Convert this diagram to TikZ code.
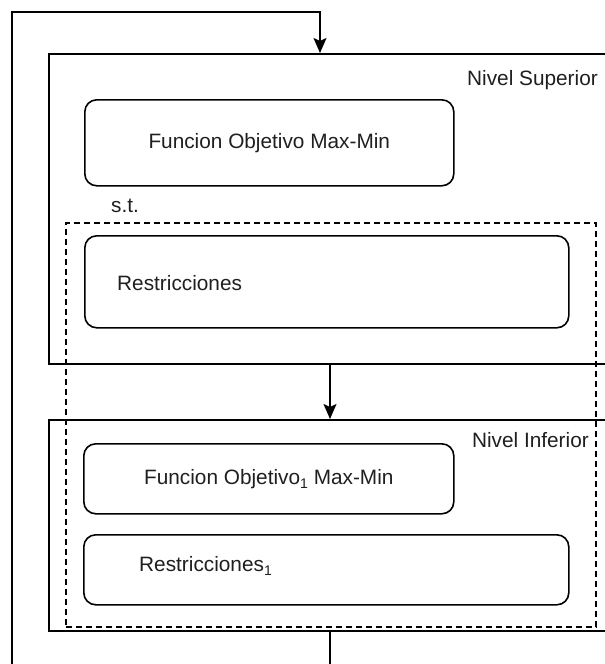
\documentclass[tikz,border=0pt]{standalone}
\usepackage{fontspec}
\setmainfont{Liberation Sans}
\usetikzlibrary{arrows.meta}
\begin{document}
\begin{tikzpicture}[x=1pt,y=-1pt,
  bigbox/.style={draw, line width=2.4pt, anchor=north west, inner sep=0pt},
  rbox/.style={draw, line width=1.6pt, rounded corners=12pt, anchor=north west, inner sep=0pt},
  lbl/.style={font=\fontsize{20.8}{24}\selectfont, text=black!88, inner sep=0pt},
  stbox/.style={draw, dashed, dash pattern=on 6pt off 4pt, line width=1.5pt, anchor=north west, inner sep=0pt},
  arr/.style={line width=1.7pt, -{Stealth[length=15pt,width=13pt,inset=3pt]}}]
\clip (0,0) rectangle (605,664);
% outer level boxes
\node[bigbox, minimum width=570pt, minimum height=310pt] (sup) at (48,53) {};
\node[bigbox, minimum width=570pt, minimum height=211pt] (inf) at (48,419) {};
% inner rounded boxes
\node[rbox, minimum width=369pt, minimum height=86pt] (fo) at (84,99) {};
\node[rbox, minimum width=484pt, minimum height=92pt] (res) at (84,235) {};
\node[rbox, minimum width=370pt, minimum height=70pt] (fo1) at (83,443) {};
\node[rbox, minimum width=485pt, minimum height=70pt] (res1) at (83,534) {};
% labels
\node[lbl, anchor=east] (supl) at (598,80) {Nivel Superior};
\node[lbl, anchor=east] (infl) at (589,440) {Nivel Inferior};
\node[lbl] (fol) at (fo.center) {Funcion Objetivo Max-Min};
\node[lbl, anchor=west] (resl) at (117,283) {Restricciones};
\node[lbl] (fo1l) at (fo1.center) {Funcion Objetivo\raisebox{-0.35ex}{\fontsize{14}{14}\selectfont 1} Max-Min};
\node[lbl, anchor=west] (res1l) at (139,566) {Restricciones\raisebox{-0.35ex}{\fontsize{14}{14}\selectfont 1}};
\node[lbl] (stl) at (125,206) {s.t.};
% dashed constraint region
\node[stbox, minimum width=530pt, minimum height=404pt] (st) at (65,222) {};
% connectors
\coordinate (ax) at (330,0);
\coordinate (lx) at (320,0);
\coordinate (lc) at (12,12);
\draw[arr] (sup.south -| ax) -- (inf.north -| ax);
\draw[arr, line width=1.5pt] (inf.south -| ax) -- ++(0,60) -| (lc) -| (sup.north -| lx);
\end{tikzpicture}
\end{document}
